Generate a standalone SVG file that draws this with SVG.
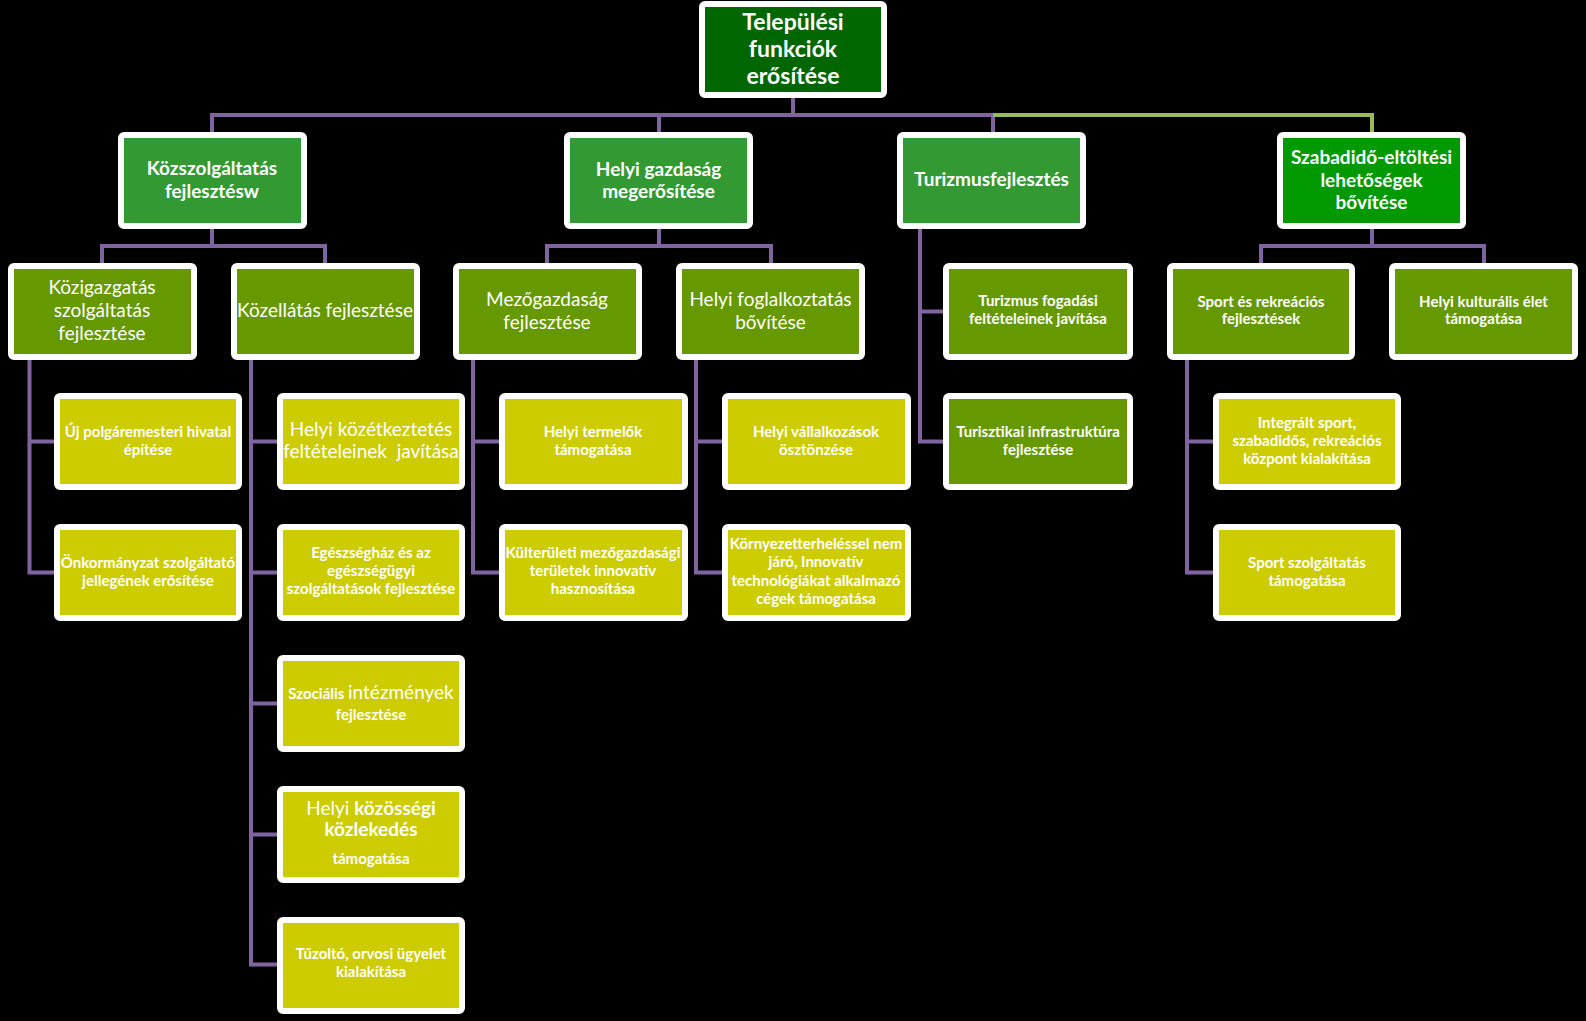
<svg xmlns="http://www.w3.org/2000/svg" width="1586" height="1021" viewBox="0 0 1586 1021">
<style>
.bx{stroke:#ffffff;stroke-width:6}
.c0{fill:#006600}
.c1{fill:#339933}
.c1b{fill:#009900}
.c2{fill:#669900}
.c3{fill:#cccc00}
.ln{fill:none;stroke:#8064a2;stroke-width:4}
.lg{fill:none;stroke:#9bbb59;stroke-width:4}
text{font-family:Lato,"Liberation Sans",sans-serif;fill:#ffffff;text-anchor:middle}
.t0{font-size:23px;font-weight:bold}
.t1{font-size:19px;font-weight:bold}
.t2{font-size:19px}
.t3{font-size:15px;font-weight:bold}
</style>
<rect x="0" y="0" width="1586" height="1021" fill="#000000"/>
<g id="connectors">
<path class="ln" d="M793 98 V115 H212 V132 M659 115 V132 M793 115 H993 V132"/>
<path class="lg" d="M993 115 H1372 V132"/>
<path class="ln" d="M212 229 V246 H102 V263 M212 246 H325 V263"/>
<path class="ln" d="M659 229 V246 H547 V263 M659 246 H771 V263"/>
<path class="ln" d="M1372 229 V246 H1261 V263 M1372 246 H1484 V263"/>
<path class="ln" d="M29.5 360 V572.5 H54 M29.5 441.5 H54"/>
<path class="ln" d="M251 360 V964.5 H277 M251 441.5 H277 M251 572.5 H277 M251 703.5 H277 M251 834.5 H277"/>
<path class="ln" d="M473 360 V572.5 H499 M473 441.5 H499"/>
<path class="ln" d="M696 360 V572.5 H722 M696 441.5 H722"/>
<path class="ln" d="M920 229 V441.5 H943 M920 311.5 H943"/>
<path class="ln" d="M1187 360 V572.5 H1213 M1187 441.5 H1213"/>
</g>
<g id="root">
<rect class="bx c0" x="702" y="4" width="182" height="91" rx="3"/>
<text class="t0" x="793" y="30">Települési</text>
<text class="t0" x="793" y="57">funkciók</text>
<text class="t0" x="793" y="84">erősítése</text>
</g>
<g id="kozszolgaltatas">
<rect class="bx c1" x="121" y="135" width="183" height="91" rx="3"/>
<text class="t1" x="212" y="175">Közszolgáltatás</text>
<text class="t1" x="212" y="198">fejlesztésw</text>
</g>
<g id="helyi-gazdasag">
<rect class="bx c1" x="567" y="135" width="183" height="91" rx="3"/>
<text class="t1" x="658.5" y="176">Helyi gazdaság</text>
<text class="t1" x="658.5" y="198">megerősítése</text>
</g>
<g id="turizmus">
<rect class="bx c1" x="900" y="135" width="183" height="91" rx="3"/>
<text class="t1" x="991.5" y="186">Turizmusfejlesztés</text>
</g>
<g id="szabadido">
<rect class="bx c1b" x="1280" y="135" width="183" height="91" rx="3"/>
<text class="t1" x="1371.5" y="164">Szabadidő-eltöltési</text>
<text class="t1" x="1371.5" y="187">lehetőségek</text>
<text class="t1" x="1371.5" y="209">bővítése</text>
</g>
<g id="kozigazgatas">
<rect class="bx c2" x="11" y="266" width="183" height="91" rx="3"/>
<text class="t2" x="102" y="294">Közigazgatás</text>
<text class="t2" x="102" y="317">szolgáltatás</text>
<text class="t2" x="102" y="340">fejlesztése</text>
</g>
<g id="kozellatas">
<rect class="bx c2" x="234" y="266" width="183" height="91" rx="3"/>
<text class="t2" x="325" y="317">Közellátás fejlesztése</text>
</g>
<g id="mezogazdasag">
<rect class="bx c2" x="456" y="266" width="183" height="91" rx="3"/>
<text class="t2" x="547" y="306">Mezőgazdaság</text>
<text class="t2" x="547" y="329">fejlesztése</text>
</g>
<g id="helyi-foglalkoztatas">
<rect class="bx c2" x="679" y="266" width="183" height="91" rx="3"/>
<text class="t2" x="770.5" y="306">Helyi foglalkoztatás</text>
<text class="t2" x="770.5" y="329">bővítése</text>
</g>
<g id="turizmus-fogadasi">
<rect class="bx c2" x="946" y="266" width="184" height="91" rx="3"/>
<text class="t3" x="1038" y="306">Turizmus fogadási</text>
<text class="t3" x="1038" y="324">feltételeinek javítása</text>
</g>
<g id="sport-rekreacios">
<rect class="bx c2" x="1170" y="266" width="182" height="91" rx="3"/>
<text class="t3" x="1261" y="307">Sport és rekreációs</text>
<text class="t3" x="1261" y="324">fejlesztések</text>
</g>
<g id="helyi-kulturalis">
<rect class="bx c2" x="1392" y="266" width="183" height="91" rx="3"/>
<text class="t3" x="1483.5" y="307">Helyi kulturális élet</text>
<text class="t3" x="1483.5" y="324">támogatása</text>
</g>
<g id="uj-polgarmesteri">
<rect class="bx c3" x="57" y="396" width="182" height="91" rx="3"/>
<text class="t3" x="148" y="437">Új polgáremesteri hivatal</text>
<text class="t3" x="148" y="455">építése</text>
</g>
<g id="onkormanyzat">
<rect class="bx c3" x="57" y="527" width="182" height="91" rx="3"/>
<text class="t3" x="148" y="568">Önkormányzat szolgáltató</text>
<text class="t3" x="148" y="586">jellegének erősítése</text>
</g>
<g id="kozetkeztetes">
<rect class="bx c3" x="280" y="396" width="182" height="91" rx="3"/>
<text class="t2" x="371" y="436">Helyi közétkeztetés</text>
<text class="t2" x="371" y="458" xml:space="preserve">feltételeinek  javítása</text>
</g>
<g id="egeszseghaz">
<rect class="bx c3" x="280" y="527" width="182" height="91" rx="3"/>
<text class="t3" x="371" y="558">Egészségház és az</text>
<text class="t3" x="371" y="576">egészségügyi</text>
<text class="t3" x="371" y="594">szolgáltatások fejlesztése</text>
</g>
<g id="szocialis">
<rect class="bx c3" x="280" y="658" width="182" height="91" rx="3"/>
<text x="371" y="699"><tspan class="t3">Szociális </tspan><tspan class="t2">intézmények</tspan></text>
<text class="t3" x="371" y="720">fejlesztése</text>
</g>
<g id="kozossegi-kozlekedes">
<rect class="bx c3" x="280" y="789" width="182" height="91" rx="3"/>
<text x="371" y="815"><tspan class="t2">Helyi </tspan><tspan class="t2" font-weight="bold">közösségi</tspan></text>
<text class="t2" x="371" y="836" font-weight="bold">közlekedés</text>
<text class="t3" x="371" y="864">támogatása</text>
</g>
<g id="tuzolto">
<rect class="bx c3" x="280" y="920" width="182" height="91" rx="3"/>
<text class="t3" x="371" y="959">Tűzoltó, orvosi ügyelet</text>
<text class="t3" x="371" y="977">kialakítása</text>
</g>
<g id="helyi-termelok">
<rect class="bx c3" x="502" y="396" width="183" height="91" rx="3"/>
<text class="t3" x="593" y="437">Helyi termelők</text>
<text class="t3" x="593" y="455">támogatása</text>
</g>
<g id="kulteruleti">
<rect class="bx c3" x="502" y="527" width="183" height="91" rx="3"/>
<text class="t3" x="593" y="558">Külterületi mezőgazdasági</text>
<text class="t3" x="593" y="576">területek innovatív</text>
<text class="t3" x="593" y="594">hasznosítása</text>
</g>
<g id="helyi-vallalkozasok">
<rect class="bx c3" x="725" y="396" width="183" height="91" rx="3"/>
<text class="t3" x="816" y="437">Helyi vállalkozások</text>
<text class="t3" x="816" y="455">ösztönzése</text>
</g>
<g id="kornyezetterheles">
<rect class="bx c3" x="725" y="527" width="183" height="91" rx="3"/>
<text class="t3" x="816" y="549">Környezetterheléssel nem</text>
<text class="t3" x="816" y="567">járó, Innovatív</text>
<text class="t3" x="816" y="586">technológiákat alkalmazó</text>
<text class="t3" x="816" y="604">cégek támogatása</text>
</g>
<g id="turisztikai-infra">
<rect class="bx c2" x="946" y="396" width="184" height="91" rx="3"/>
<text class="t3" x="1038" y="437">Turisztikai infrastruktúra</text>
<text class="t3" x="1038" y="455">fejlesztése</text>
</g>
<g id="integralt-sport">
<rect class="bx c3" x="1216" y="396" width="182" height="91" rx="3"/>
<text class="t3" x="1307" y="428">Integrált sport,</text>
<text class="t3" x="1307" y="446">szabadidős, rekreációs</text>
<text class="t3" x="1307" y="464">központ kialakítása</text>
</g>
<g id="sport-szolgaltatas">
<rect class="bx c3" x="1216" y="527" width="182" height="91" rx="3"/>
<text class="t3" x="1307" y="568">Sport szolgáltatás</text>
<text class="t3" x="1307" y="586">támogatása</text>
</g>
</svg>
